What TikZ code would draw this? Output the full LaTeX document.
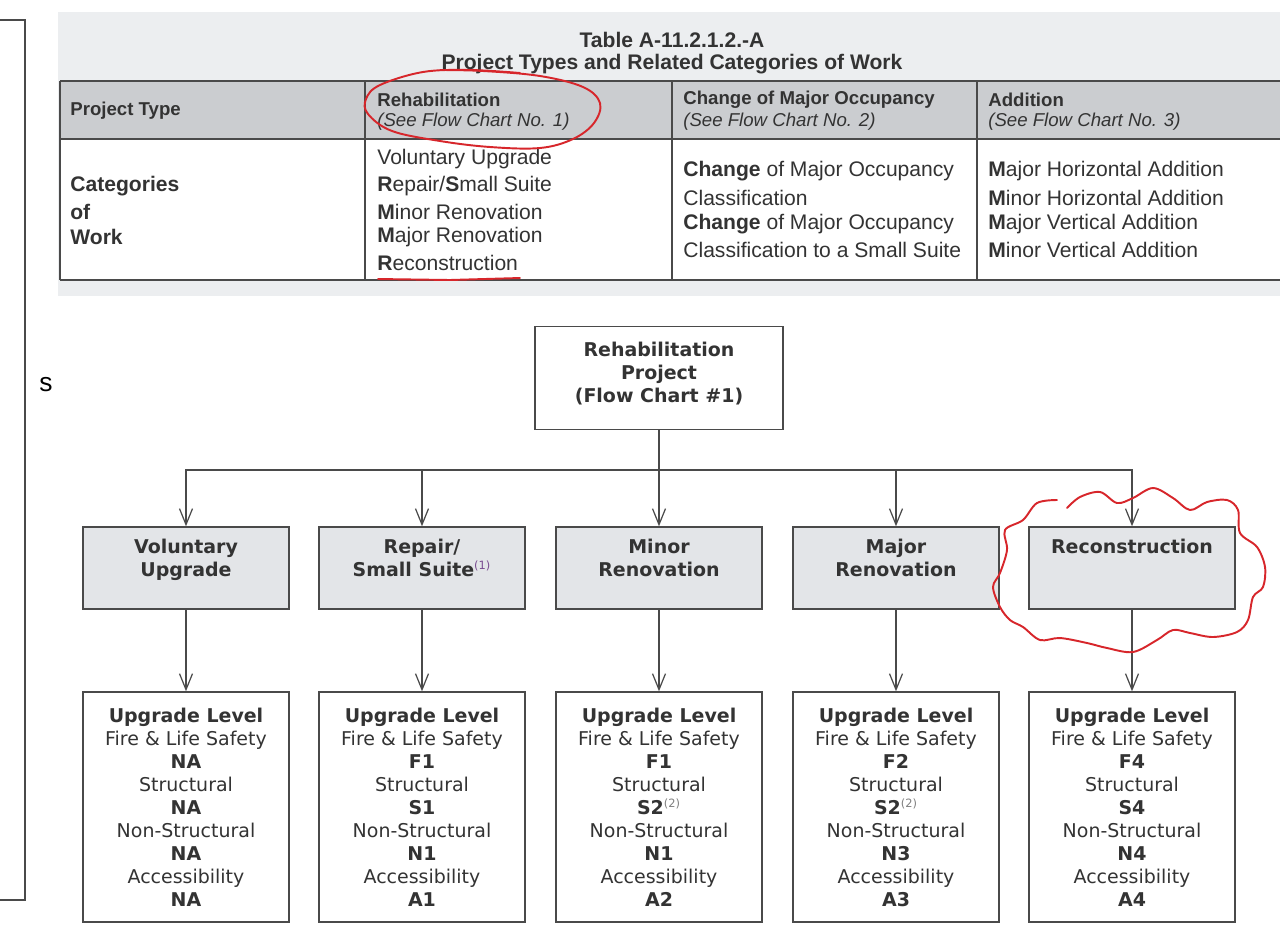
\documentclass[tikz,border=0pt]{standalone}
\usepackage{fontspec}
\setmainfont{Liberation Sans}
\newfontfamily\chartfont{DejaVu Sans}
\usetikzlibrary{arrows.meta}

\definecolor{bandgray}{HTML}{ECEEF0}
\definecolor{headgray}{HTML}{CBCDD0}
\definecolor{boxgray}{HTML}{E3E5E8}
\definecolor{inkgray}{HTML}{333333}
\definecolor{rulegray}{HTML}{4A4A4A}
\definecolor{penred}{HTML}{D7262B}
\definecolor{notepurple}{HTML}{7A4E91}

\newcommand\notemark[2]{\textsuperscript{\mdseries\fontsize{6.5}{7}\selectfont\textcolor{#1}{(#2)}}}

\begin{document}
\begin{tikzpicture}[x=0.02cm, y=-0.02cm,
    every node/.style={text=inkgray},
    cell/.style={anchor=west, inner sep=0pt, font=\fontsize{12}{14}\selectfont},
    headcell/.style={anchor=west, inner sep=0pt, font=\fontsize{10.6}{12}\selectfont},
    chart/.style={align=center, font=\chartfont\fontsize{10.8}{13.1}\selectfont},
    charthead/.style={align=center, inner sep=0pt, font=\chartfont\bfseries\fontsize{10.8}{13.1}\selectfont},
    catbox/.style={draw=rulegray, line width=0.85pt, fill=boxgray, minimum width=4.12cm, minimum height=1.64cm},
    levelbox/.style={chart, draw=rulegray, line width=0.85pt, fill=white, minimum width=4.12cm, minimum height=4.6cm, inner sep=0pt},
    flow/.style={draw=rulegray, line width=0.7pt, -{Straight Barb[length=3.2mm,width=2.6mm]}},
    pen/.style={draw=penred, line width=1.1pt, line cap=round, line join=round}]
  \useasboundingbox (0,0) rectangle (1280,927);

  % cut-off panel on the left
  \draw[rulegray, line width=0.6pt] (0,20) -- (25,20) -- (25,900) -- (0,900);
  \node[anchor=west, inner sep=0pt, text=black, font=\fontsize{15}{17}\selectfont] (frag) at (39,385) {s};

  % table
  \fill[bandgray] (58,12) rectangle (1280,296);
  \fill[headgray] (60,81) rectangle (1280,139);
  \fill[white] (60,139) rectangle (1280,280);
  \draw[rulegray, line width=0.9pt] (60,81) -- (1280,81) (60,139) -- (1280,139) (60,280) -- (1280,280);
  \draw[rulegray, line width=0.9pt] (60,81) -- (60,280) (365,81) -- (365,280)
    (672,81) -- (672,280) (977,81) -- (977,280);
  \node[inner sep=0pt, font=\bfseries\fontsize{12}{14}\selectfont] (tblno) at (672,40) {Table A-11.2.1.2.-A};
  \node[inner sep=0pt, font=\bfseries\fontsize{12}{14}\selectfont] (tbltitle) at (672,64) {Project Types and Related Categories of Work};

  \node[headcell] (h-type) at (70,111) {\bfseries Project Type};
  \node[headcell] (h-rehab) at (377,100) {\bfseries Rehabilitation};
  \node[headcell] (h-rehab2) at (377,122) {\itshape (See Flow Chart No. 1)};
  \node[headcell] (h-change) at (683,100) {\bfseries Change of Major Occupancy};
  \node[headcell] (h-change2) at (683,122) {\itshape (See Flow Chart No. 2)};
  \node[headcell] (h-add) at (988,100) {\bfseries Addition};
  \node[headcell] (h-add2) at (988,122) {\itshape (See Flow Chart No. 3)};

  \foreach \y/\txt [count=\i] in {186/Categories, 212/of, 237/Work}
    \node[cell] (cat-\i) at (70,\y) {\bfseries\txt};
  \foreach \y/\txt [count=\i] in {159/{Voluntary Upgrade}, 186/{\textbf{R}epair/\textbf{S}mall Suite},
      212/{\textbf{M}inor Renovation}, 237/{\textbf{M}ajor Renovation}, 263/{\textbf{R}econstruction}}
    \node[cell] (rehab-\i) at (377,\y) {\txt};
  \foreach \y/\txt [count=\i] in {171/{\textbf{Change} of Major Occupancy}, 198/Classification,
      224/{\textbf{Change} of Major Occupancy}, 250/{Classification to a Small Suite}}
    \node[cell] (change-\i) at (683,\y) {\txt};
  \foreach \y/\txt [count=\i] in {171/{\textbf{M}ajor Horizontal Addition}, 198/{\textbf{M}inor Horizontal Addition},
      224/{\textbf{M}ajor Vertical Addition}, 250/{\textbf{M}inor Vertical Addition}}
    \node[cell] (add-\i) at (988,\y) {\txt};

  % flow chart
  \node[draw=rulegray, line width=0.85pt, fill=white, minimum width=4.96cm, minimum height=2.06cm] (project) at (659,378) {};
  \node[charthead, anchor=north] (project-t) at (659,342) {Rehabilitation\\Project\\(Flow Chart \#1)};
  \coordinate (split) at (659,470);
  \draw[rulegray, line width=0.7pt] (project.south) -- (split);

  \foreach \cx/\nm/\lbl/\lf/\ls/\ln/\la in {
      186/vu/{Voluntary\\Upgrade}/NA/NA/NA/NA,
      422/rs/{Repair/\\Small Suite\notemark{notepurple}{1}}/F1/S1/N1/A1,
      659/mi/{Minor\\Renovation}/F1/{S2\notemark{gray}{2}}/N1/A2,
      896/ma/{Major\\Renovation}/F2/{S2\notemark{gray}{2}}/N3/A3,
      1132/rc/{Reconstruction}/F4/S4/N4/A4} {
    \node[catbox] (\nm) at (\cx,568) {};
    \node[charthead, anchor=north] (\nm-t) at (\cx,539) {\lbl};
    \node[levelbox] (\nm-l) at (\cx,807) {\textbf{Upgrade Level}\\Fire \& Life Safety\\\textbf{\lf}\\
      Structural\\\textbf{\ls}\\Non-Structural\\\textbf{\ln}\\Accessibility\\\textbf{\la}};
    \draw[flow] (split) -| (\nm.north);
    \draw[flow] (\nm.south) -- (\nm-l.north);
  }

  % red pen marks
  \draw[pen] plot[smooth, tension=0.6] coordinates {(440,70) (483,71) (540,76) (583,87) (600,103) (594,123)
    (573,139) (540,148) (490,147) (440,141) (392,131) (368,114) (366,99) (380,85) (423,72) (470,70) (520,73)};
  \draw[pen] (378,279) -- (450,280) -- (520,278);
  \draw[pen] plot[smooth, tension=0.55] coordinates {(1067,508) (1080,497) (1100,492) (1117,503) (1133,498)
    (1153,488) (1173,498) (1190,510) (1207,502) (1227,500) (1238,510) (1240,533) (1257,547) (1265,567)
    (1263,587) (1253,597) (1248,620) (1237,632) (1213,637) (1190,633) (1173,630) (1157,640) (1133,652)
    (1107,648) (1087,643) (1060,638) (1040,640) (1023,627) (1010,620) (1000,607) (993,587) (1000,573)
    (1007,550) (1005,530) (1023,520) (1037,503) (1057,500)};
\end{tikzpicture}
\end{document}
